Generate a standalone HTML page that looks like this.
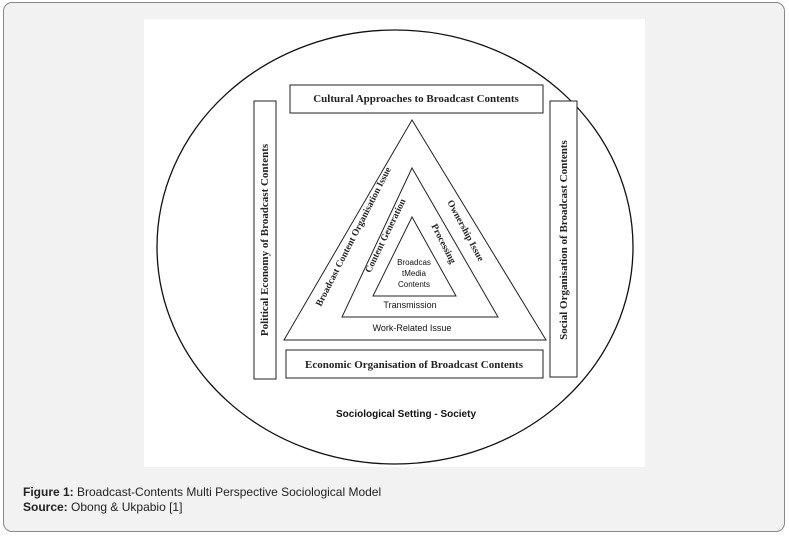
<!DOCTYPE html>
<html><head><style>
body{margin:0;width:789px;height:537px;background:#fff;overflow:hidden;font-family:"Liberation Sans",sans-serif}
.frame{position:absolute;left:3px;top:2px;width:780px;height:528px;border:1.5px solid #888;border-radius:9px;background:#f2f2f2}
.cap{position:absolute;left:23px;font-size:12px;color:#222}
</style></head><body>
<div class="frame"></div>
<svg style="position:absolute;left:0;top:0" width="789" height="537">
<rect x="144" y="19" width="501" height="448" fill="#fff"/>
<ellipse cx="395" cy="247" rx="238" ry="217" fill="none" stroke="#111" stroke-width="1.3"/>
<g fill="#fff" stroke="#222" stroke-width="1">
<rect x="290" y="85" width="253" height="28"/>
<rect x="254" y="101" width="22" height="278"/>
<rect x="550" y="101" width="27" height="276"/>
<rect x="286" y="350" width="257" height="28"/>
</g>
<g fill="none" stroke="#222" stroke-width="1">
<polygon points="412,120 284,340 546,340"/>
<polygon points="412,168 342,317 498,317"/>
<polygon points="412,217 373,296 456,296"/>
</g>
<g font-family="Liberation Serif,serif" font-weight="bold" font-size="11" fill="#222" text-anchor="middle">
<text x="416" y="102">Cultural Approaches to Broadcast Contents</text>
<text x="414" y="368">Economic Organisation of Broadcast Contents</text>
<text transform="translate(268,240) rotate(-90)">Political Economy of Broadcast Contents</text>
<text transform="translate(567,240) rotate(-90)">Social Organisation of Broadcast Contents</text>
<text font-size="9.5" transform="translate(356,238) rotate(-63)">Broadcast Content Organisation Issue</text>
<text font-size="9.5" transform="translate(388,237) rotate(-64)">Content Generation</text>
<text font-size="9.5" transform="translate(463,232) rotate(62)">Ownership Issue</text>
<text font-size="9.5" transform="translate(441,245) rotate(63)">Processing</text>
</g>
<g font-family="Liberation Sans,sans-serif" font-size="9" fill="#111" text-anchor="middle">
<text x="412" y="331">Work-Related Issue</text>
<text x="410" y="308">Transmission</text>
<text font-size="8" x="414" y="265">Broadcas</text>
<text font-size="8" x="414" y="276">tMedia</text>
<text font-size="8" x="414" y="287">Contents</text>
<text font-size="10" font-weight="bold" x="406" y="417">Sociological Setting - Society</text>
</g>
</svg>
<div class="cap" style="top:485px"><b>Figure 1:</b> Broadcast-Contents Multi Perspective Sociological Model</div>
<div class="cap" style="top:500px"><b>Source:</b> Obong &amp; Ukpabio [1]</div>
</body></html>
